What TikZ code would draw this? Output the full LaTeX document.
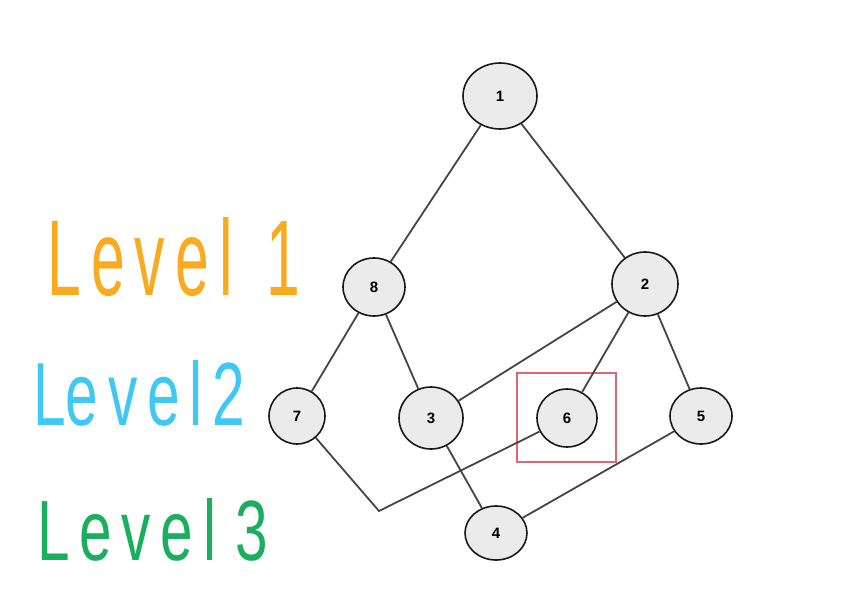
\documentclass[tikz,border=0pt]{standalone}
\usepackage{fontspec}
\usepackage{graphicx}
\usetikzlibrary{shapes.geometric}
\setmainfont{Liberation Sans}
\definecolor{nodefill}{HTML}{EBEBEB}
\definecolor{edgecol}{HTML}{454545}
\definecolor{boxred}{HTML}{E06575}
\definecolor{lvlone}{HTML}{F9AA1E}
\definecolor{lvltwo}{HTML}{40C8F4}
\definecolor{lvlthree}{HTML}{1BAE5E}
\begin{document}
\begin{tikzpicture}[x=1pt,y=-1pt,
  vert/.style={ellipse,draw=black!90,line width=1.6pt,fill=nodefill,inner sep=0pt,
    font=\fontsize{15}{15}\selectfont\bfseries},
  edge/.style={draw=edgecol,line width=1.8pt},
  lvl/.style={inner sep=0pt,anchor=north west}]
\useasboundingbox (0,0) rectangle (842,615);
% nodes
\node[vert,minimum width=74pt,minimum height=66pt] (n1) at (500,96) {1};
\node[vert,minimum width=62pt,minimum height=58pt] (n8) at (374,287) {8};
\node[vert,minimum width=66pt,minimum height=64pt] (n2) at (645,284) {2};
\node[vert,minimum width=56pt,minimum height=56pt] (n7) at (297,416) {7};
\node[vert,minimum width=64pt,minimum height=62pt] (n3) at (431,418) {3};
\node[vert,minimum width=60pt,minimum height=58pt] (n6) at (567,418) {6};
\node[vert,minimum width=62pt,minimum height=56pt] (n5) at (701,416) {5};
\node[vert,minimum width=62pt,minimum height=54pt] (n4) at (496,533) {4};
\coordinate (j) at (379,511);
% highlight box
\node[draw=boxred,line width=1.4pt,minimum width=99pt,minimum height=89pt,inner sep=0pt] (hb) at (566.5,417.5) {};
% edges
\draw[edge] (n1) -- (n8);
\draw[edge] (n1) -- (n2);
\draw[edge] (n8) -- (n7);
\draw[edge] (n8) -- (n3);
\draw[edge] (n2) -- (n3);
\draw[edge] (n2) -- (n6);
\draw[edge] (n2) -- (n5);
\draw[edge] (n7) -- (j) -- (n6);
\draw[edge] (n3) -- (n4);
\draw[edge] (n4) -- (n5);
% level labels
\node[lvl,text=lvlone] (l1) at (47,217) {\resizebox{253pt}{78pt}{\fontsize{60}{60}\selectfont L\,e\,v\,e\,l\ \ 1}};
\node[lvl,text=lvltwo] (l2) at (33,360) {\resizebox{212pt}{65pt}{\fontsize{60}{60}\selectfont Le\,v\,e\,l\,2}};
\node[lvl,text=lvlthree] (l3) at (37,498) {\resizebox{231pt}{62pt}{\fontsize{60}{60}\selectfont L\,e\,v\,e\,l\,\,3}};
\end{tikzpicture}
\end{document}
